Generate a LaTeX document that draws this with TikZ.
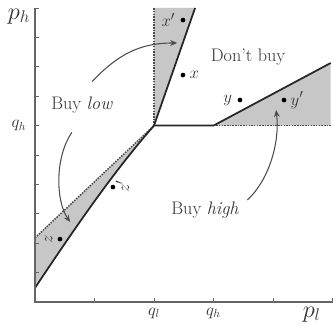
\documentclass[tikz,border=0pt]{standalone}
\usetikzlibrary{arrows.meta, positioning}

\begin{document}
\begin{tikzpicture}[
x=1.785cm, y=0.882cm,
every node/.style={
font=\fontsize{15.5}{18}\selectfont,
text=black!80
},
axis/.style={black!60, line width=1.2pt},
tick/.style={black!60, line width=0.8pt},
border/.style={black!85, line width=1.5pt},
edge/.style={black!70, line width=1.3pt, densely dotted},
region/.style={fill=black!22},
pt/.style={circle, fill=black, inner sep=0pt, minimum size=4pt},
arrow/.style={-{Stealth[length=6pt, width=5pt]}, black!70, line width=0.9pt}
]

\useasboundingbox (-0.588,-0.782) rectangle (5.025,10.272);

% ------------------------
% Shaded regions
% ------------------------
\fill[region] (2,6) -- (2,10) -- (2.69,10) -- cycle;
\fill[region] (3,6) -- (4.97,8.13) -- (4.97,6) -- cycle;
\fill[region] (0,0.48) .. controls (0.55,2.15) and (1.28,4.35) .. (2,6)
  -- (0,2.18) -- cycle;

% ------------------------
% Boundaries
% ------------------------
\draw[edge] (2,6) -- (2,10);
\draw[edge] (3,6) -- (4.97,6);
\draw[edge] (0,2.18) -- (2,6);

\draw[border] (0,0.48) .. controls (0.55,2.15) and (1.28,4.35) .. (2,6)
  -- (3,6) -- (4.97,8.13);
\draw[border] (2,6) -- (2.69,10);

% ------------------------
% Axes
% ------------------------
\draw[axis] (0,10) -- (0,0) -- (5,0);
\foreach \i in {1,...,10}
  \draw[tick] (0,\i) -- ++(0.06,0);
\foreach \i in {1,...,5}
  \draw[tick] (\i,0) -- ++(0,0.12);

\node[font=\huge] (ph) at (-0.27,9.72) {$p_h$};
\node[font=\huge] (pl) at (4.65,-0.42) {$p_l$};
\node[font=\Large] (qlx) at (2,-0.38) {$q_l$};
\node[font=\Large] (qhx) at (3,-0.38) {$q_h$};
\node[font=\Large] (qhy) at (-0.27,6) {$q_h$};

% ------------------------
% Points
% ------------------------
\node[pt] (xp) at (2.487,9.59) {};
\node[left=1pt of xp] (xplbl) {$x'$};
\node[pt] (x) at (2.487,7.72) {};
\node[right=0pt of x] (xlbl) {$x$};
\node[pt] (y) at (3.445,6.87) {};
\node[left=1pt of y] (ylbl) {$y$};
\node[pt] (yp) at (4.185,6.87) {};
\node[right=0pt of yp] (yplbl) {$y'$};
\node[pt] (zp) at (1.31,3.91) {};
\node[rotate=90] (zplbl) at (1.47,3.93) {$z'$};
\node[pt] (z) at (0.42,2.14) {};
\node[rotate=90] (zlbl) at (0.23,2.12) {$z$};

% ------------------------
% Region labels
% ------------------------
\node (buylow) at (0.79,6.70) {Buy \textit{low}};
\node (dontbuy) at (3.58,8.33) {Don't buy};
\node (buyhigh) at (2.86,3.13) {Buy \textit{high}};

\coordinate (lowup) at (2.39,8.81);
\coordinate (lowdown) at (0.59,2.72);
\coordinate (highup) at (4.05,6.53);

% ------------------------
% Arrows
% ------------------------
\draw[arrow] ([shift={(0.17,0.38)}]buylow.north)
  .. controls +(0.44,0.94) and +(-0.62,0) .. (lowup);
\draw[arrow] ([shift={(-0.17,-0.51)}]buylow.south)
  .. controls +(-0.28,-0.82) and +(-0.25,0.75) .. (lowdown);
\draw[arrow] ([shift={(0.07,0.34)}]buyhigh.east)
  .. controls +(0.37,0.68) and +(0.07,-1.05) .. (highup);

\end{tikzpicture}
\end{document}
